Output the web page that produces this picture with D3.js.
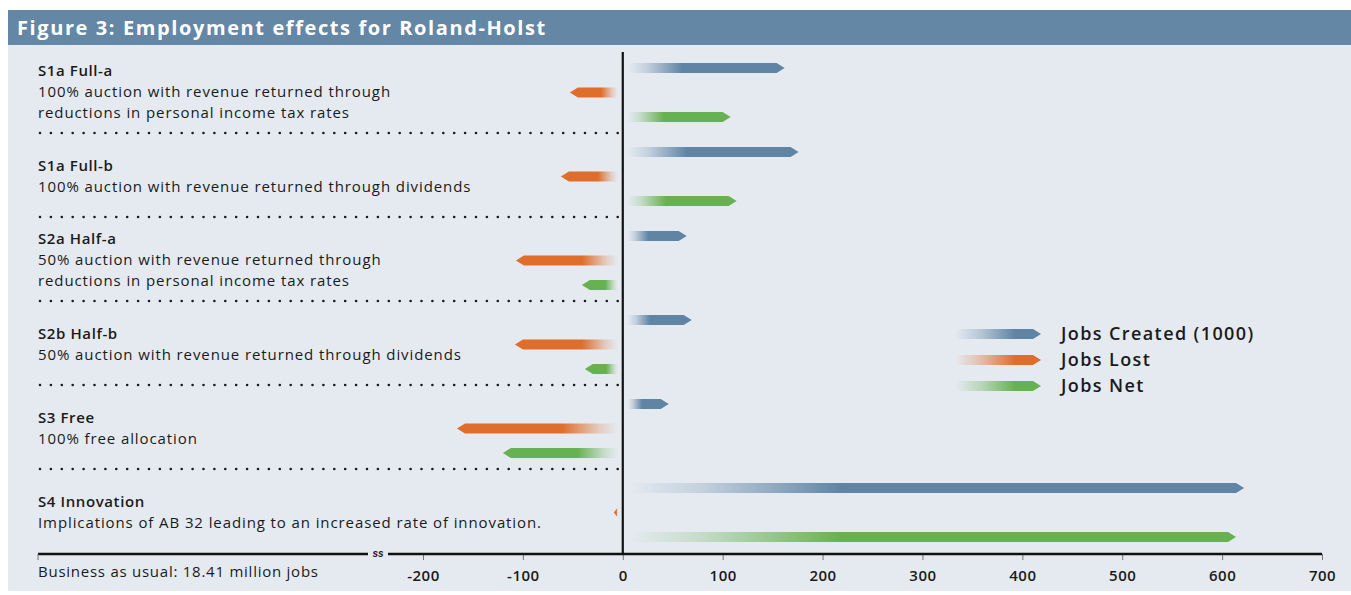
<!DOCTYPE html>
<html>
<head>
<meta charset="utf-8">
<script src="https://cdn.jsdelivr.net/npm/d3@7"></script>
<style>
  html, body { margin: 0; padding: 0; background: #ffffff; }
  svg { display: block; font-family: "Open Sans", "Noto Sans", sans-serif; }
</style>
</head>
<body>
<svg id="chart" width="1351" height="595"></svg>
<script>
// Scenario names and their descriptions (one entry per text line)
const scenarios = ["S1a Full-a", "S1a Full-b", "S2a Half-a", "S2b Half-b", "S3 Free", "S4 Innovation"];
const descriptions = [
  ["100% auction with revenue returned through", "reductions in personal income tax rates"],
  ["100% auction with revenue returned through dividends"],
  ["50% auction with revenue returned through", "reductions in personal income tax rates"],
  ["50% auction with revenue returned through dividends"],
  ["100% free allocation"],
  ["Implications of AB 32 leading to an increased rate of innovation."]
];

// Employment effects, thousands of jobs
const seriesNames = ["Jobs Created (1000)", "Jobs Lost", "Jobs Net"];
const jobsCreated = [162, 176, 64, 69, 46, 622];
const jobsLost = [-53, -62, -107, -108, -166, -9];
const jobsNet = [108, 114, -41, -38, -120, 614];
const seriesColors = ["#5f84a4", "#df6d2b", "#68b153"];

const xTicks = [-200, -100, 0, 100, 200, 300, 400, 500, 600, 700];
const baselineNote = "Business as usual: 18.41 million jobs";

const seriesValues = [jobsCreated, jobsLost, jobsNet];

const svg = d3.select("#chart");

// Background panel and title band
svg.append("rect").attr("x", 8).attr("y", 10).attr("width", 1343).attr("height", 581).attr("fill", "#e5eaf1");
svg.append("rect").attr("x", 8).attr("y", 10).attr("width", 1343).attr("height", 35).attr("fill", "#6487a6");
svg.append("text").attr("x", 17).attr("y", 35)
  .attr("fill", "#ffffff").attr("font-size", 20).attr("font-weight", 700).attr("letter-spacing", 1.6)
  .text("Figure 3: Employment effects for Roland-Holst");

// Scales
const x = d3.scaleLinear().domain([-200, 700]).range([423, 1322]);
const yGroup = d3.scaleBand().domain(scenarios).range([49, 553]).padding(0);
const ySeries = d3.scalePoint().domain(seriesNames).range([19, 68]);

const axisY = 554;
const barH = 10;
const tip = 8;
const gap = 5;
const lineGap = 21;

// Gradients: bars fade in from the zero line
const defs = svg.append("defs");
seriesNames.forEach((s, i) => {
  [["pos", 0, 1], ["neg", 1, 0]].forEach(([dir, x1, x2]) => {
    const g = defs.append("linearGradient").attr("id", `grad-${i}-${dir}`)
      .attr("x1", x1).attr("x2", x2).attr("y1", 0).attr("y2", 0);
    g.append("stop").attr("offset", 0).attr("stop-color", seriesColors[i]).attr("stop-opacity", 0);
    g.append("stop").attr("offset", 0.12).attr("stop-color", seriesColors[i]).attr("stop-opacity", 0.25);
    g.append("stop").attr("offset", 0.35).attr("stop-color", seriesColors[i]).attr("stop-opacity", 1);
    g.append("stop").attr("offset", 1).attr("stop-color", seriesColors[i]).attr("stop-opacity", 1);
  });
  const lg = defs.append("linearGradient").attr("id", `grad-${i}-legend`)
    .attr("x1", 0).attr("x2", 1).attr("y1", 0).attr("y2", 0);
  lg.append("stop").attr("offset", 0).attr("stop-color", seriesColors[i]).attr("stop-opacity", 0);
  lg.append("stop").attr("offset", 0.3).attr("stop-color", seriesColors[i]).attr("stop-opacity", 0.35);
  lg.append("stop").attr("offset", 0.7).attr("stop-color", seriesColors[i]).attr("stop-opacity", 1);
  lg.append("stop").attr("offset", 1).attr("stop-color", seriesColors[i]).attr("stop-opacity", 1);
});

// Arrow-shaped bar path from a start x to a tip x
function arrowPath(x0, x1, cy) {
  const dir = x1 >= x0 ? 1 : -1;
  const h = barH / 2;
  let body = x1 - dir * tip;
  if ((body - x0) * dir < 0) body = x0;
  return `M${x0},${cy - h}L${body},${cy - h}L${x1},${cy}L${body},${cy + h}L${x0},${cy + h}Z`;
}

// Scenario labels, each block centred vertically in its band
const labels = svg.append("g");
scenarios.forEach((s, gi) => {
  const lines = [s, ...descriptions[gi]];
  const mid = yGroup(s) + yGroup.bandwidth() / 2 + 1;
  lines.forEach((line, li) => {
    const cy = mid + (li - (lines.length - 1) / 2) * lineGap;
    labels.append("text").attr("x", 38).attr("y", cy + 5)
      .attr("font-size", 15)
      .attr("font-weight", li === 0 ? 600 : 400)
      .attr("letter-spacing", li === 0 ? 0.6 : 0.9)
      .attr("fill", "#1a1a1a").text(line);
  });
});

// Dotted separators between scenarios
scenarios.slice(0, -1).forEach(s => {
  const yy = yGroup(s) + yGroup.bandwidth();
  svg.append("line").attr("x1", 40).attr("x2", 620).attr("y1", yy).attr("y2", yy)
    .attr("stroke", "#1a1a1a").attr("stroke-width", 2.6)
    .attr("stroke-linecap", "round").attr("stroke-dasharray", "0,10.9");
});

// Bars
const bars = svg.append("g");
scenarios.forEach((s, gi) => {
  seriesNames.forEach((name, si) => {
    const v = seriesValues[si][gi];
    const cy = yGroup(s) + ySeries(name);
    const pos = v >= 0;
    const x0 = x(0) + (pos ? gap : -gap);
    bars.append("path")
      .attr("d", arrowPath(x0, x(v), cy))
      .attr("fill", `url(#grad-${si}-${pos ? "pos" : "neg"})`);
  });
});

// Zero line
svg.append("line").attr("x1", x(0)).attr("x2", x(0)).attr("y1", 52).attr("y2", axisY)
  .attr("stroke", "#111").attr("stroke-width", 2.2);

// Axis with a break between the baseline and the scale
const axisG = svg.append("g").attr("transform", `translate(0,${axisY})`);
axisG.call(d3.axisBottom(x).tickValues(xTicks).tickSize(6).tickSizeOuter(0).tickFormat(d => String(d)))
  .call(g => g.select(".domain").remove())
  .call(g => g.selectAll(".tick line").attr("stroke", "#777").attr("stroke-width", 1))
  .call(g => g.selectAll(".tick text").attr("dy", 0).attr("y", 27)
    .attr("font-size", 15).attr("font-weight", 600).attr("letter-spacing", 0.5).attr("fill", "#1a1a1a")
    .attr("font-family", "\"Open Sans\", sans-serif"));

axisG.append("line").attr("x1", 388).attr("x2", x(700)).attr("y1", 0).attr("y2", 0)
  .attr("stroke", "#111").attr("stroke-width", 2.6);
axisG.append("line").attr("x1", 38).attr("x2", 368).attr("y1", 0).attr("y2", 0)
  .attr("stroke", "#111").attr("stroke-width", 2.6);
axisG.append("line").attr("x1", 38).attr("x2", 38).attr("y1", 0).attr("y2", 6)
  .attr("stroke", "#777").attr("stroke-width", 1);
axisG.append("text").attr("x", 378).attr("y", 3).attr("text-anchor", "middle")
  .attr("font-size", 10).attr("font-weight", 700).attr("font-style", "italic").attr("fill", "#111").text("ss");
axisG.append("text").attr("x", 38).attr("y", 23).attr("text-anchor", "start")
  .attr("font-family", "\"Open Sans\", sans-serif")
  .attr("font-size", 15).attr("letter-spacing", 0.75).attr("fill", "#1a1a1a").text(baselineNote);

// Legend
const legend = svg.append("g");
seriesNames.forEach((name, i) => {
  const cy = 334 + i * 26;
  legend.append("path").attr("d", arrowPath(955, 1041, cy)).attr("fill", `url(#grad-${i}-legend)`);
  legend.append("text").attr("x", 1061).attr("y", cy + 6)
    .attr("font-size", 18).attr("font-weight", 600).attr("letter-spacing", 1.4)
    .attr("fill", "#1a1a1a").text(name);
});
</script>
</body>
</html>
